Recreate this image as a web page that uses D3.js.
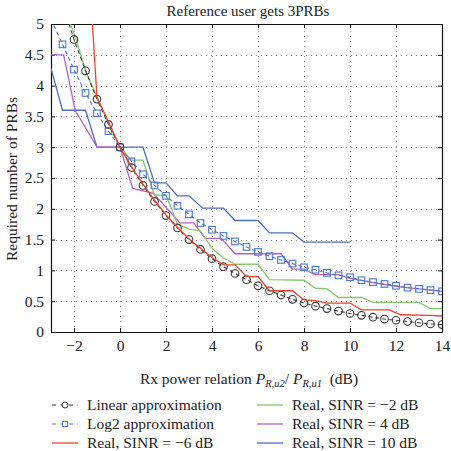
<!DOCTYPE html>
<html>
<head>
<meta charset="utf-8">
<script src="https://cdn.jsdelivr.net/npm/d3@7"></script>
<style>
  html, body { margin: 0; padding: 0; background: #fff; }
  svg { display: block; }
  svg text { font-family: "Liberation Serif", "DejaVu Serif", serif !important; fill: #222; }
</style>
</head>
<body>
<svg id="chart" width="451" height="451"></svg>
<script>
// ---------- data ----------
const titleText = "Reference user gets 3PRBs";
const xTicks = [-2, 0, 2, 4, 6, 8, 10, 12, 14];
const xTickLabels = ["\u22122", "0", "2", "4", "6", "8", "10", "12", "14"];
const yTicks = [0, 0.5, 1, 1.5, 2, 2.5, 3, 3.5, 4, 4.5, 5];
const yTickLabels = ["0", "0.5", "1", "1.5", "2", "2.5", "3", "3.5", "4", "4.5", "5"];

// Linear approximation (dashed, circle markers)
const linearX = [-2.5, -2, -1.5, -1, -0.5, 0, 0.5, 1, 1.5, 2, 2.5, 3, 3.5, 4, 4.5, 5, 5.5, 6, 6.5, 7, 7.5, 8, 8.5, 9, 9.5, 10, 10.5, 11, 11.5, 12, 12.5, 13, 13.5, 14];
const linearY = [5.33, 4.75, 4.24, 3.78, 3.37, 3.00, 2.67, 2.38, 2.12, 1.89, 1.69, 1.50, 1.34, 1.19, 1.06, 0.95, 0.85, 0.75, 0.67, 0.60, 0.53, 0.47, 0.42, 0.38, 0.34, 0.30, 0.27, 0.24, 0.21, 0.19, 0.17, 0.15, 0.13, 0.12];

// Log2 approximation (dashed, square markers)
const log2X = [-3, -2.5, -2, -1.5, -1, -0.5, 0, 0.5, 1, 1.5, 2, 2.5, 3, 3.5, 4, 4.5, 5, 5.5, 6, 6.5, 7, 7.5, 8, 8.5, 9, 9.5, 10, 10.5, 11, 11.5, 12, 12.5, 13, 13.5, 14];
const log2Y = [5.08, 4.67, 4.26, 3.88, 3.55, 3.26, 3.00, 2.77, 2.56, 2.38, 2.21, 2.05, 1.91, 1.77, 1.66, 1.56, 1.47, 1.38, 1.30, 1.23, 1.17, 1.11, 1.05, 1.01, 0.96, 0.92, 0.89, 0.84, 0.81, 0.78, 0.75, 0.72, 0.70, 0.68, 0.66];

// Real, SINR = -6 dB
const realM6X = [-1.25, -1.0, -0.5, 0, 0.5, 1, 1.5, 2, 2.5, 3, 3.5, 4, 4.5, 5, 5.5, 6, 6.5, 7.5, 8, 8.5, 9, 10, 10.5, 11.7, 12.2, 13.5, 14];
const realM6Y = [5.30, 3.80, 3.41, 3.00, 2.68, 2.40, 2.14, 1.90, 1.70, 1.51, 1.36, 1.21, 1.09, 1.09, 0.90, 0.90, 0.67, 0.67, 0.52, 0.51, 0.47, 0.47, 0.36, 0.36, 0.28, 0.27, 0.26];

// Real, SINR = -2 dB
const realM2X = [-2.25, -1.9, -1.5, -1, -0.5, 0, 0.5, 1.0, 1.5, 2.0, 2.5, 3.0, 3.5, 4.0, 4.5, 5.0, 6.0, 6.5, 8.0, 8.5, 9.0, 9.5, 10.5, 11.0, 13.0, 13.5, 14];
const realM2Y = [5.10, 4.74, 4.25, 3.82, 3.39, 3.00, 2.79, 2.79, 2.22, 2.22, 1.75, 1.67, 1.64, 1.36, 1.20, 1.10, 1.10, 0.85, 0.84, 0.71, 0.70, 0.56, 0.56, 0.48, 0.48, 0.38, 0.38];

// Real, SINR = 4 dB
const real4X = [-3, -2.45, -1.95, -1, 0, 0.55, 1.45, 2.3, 2.6, 3.2, 3.7, 4.4, 5.0, 7.0, 7.5, 8.0, 8.5, 9.5, 10, 11, 12, 13, 14];
const real4Y = [4.50, 4.50, 3.60, 3.00, 3.00, 2.33, 2.25, 1.90, 1.77, 1.77, 1.52, 1.52, 1.27, 1.27, 1.02, 1.02, 0.93, 0.93, 0.87, 0.80, 0.74, 0.70, 0.66];

// Real, SINR = 10 dB
const real10X = [-3, -2.5, -1.5, -1, 1, 1.5, 2, 2.5, 3, 3.6, 4.5, 5, 6, 6.5, 7.5, 8, 10];
const real10Y = [4.28, 3.60, 3.60, 3.00, 3.00, 2.42, 2.42, 2.21, 2.21, 2.01, 2.01, 1.81, 1.81, 1.61, 1.61, 1.46, 1.46];

const seriesNames = ["Linear approximation", "Log2 approximation", "Real, SINR = \u22126 dB", "Real, SINR = \u22122 dB", "Real, SINR = 4 dB", "Real, SINR = 10 dB"];
const seriesColors = ["#3a3a3a", "#4a78c8", "#e8442e", "#86c96e", "#b463c2", "#4f6fbd"];

// ---------- drawing ----------
const FONT = "'Liberation Serif', 'DejaVu Serif', serif";
const svg = d3.select("#chart");
const x = d3.scaleLinear().domain([-3, 14]).range([51, 442]);
const y = d3.scaleLinear().domain([0, 5]).range([332, 24]);
const [x0, x1] = x.range();
const [y0, y1] = y.range();

svg.append("defs").append("clipPath").attr("id", "clip")
  .append("rect").attr("x", x0).attr("y", y1).attr("width", x1 - x0).attr("height", y0 - y1);

// grid
const grid = svg.append("g").attr("stroke", "#8a8a8a").attr("stroke-width", 1)
  .attr("stroke-dasharray", "1,4").attr("fill", "none");
xTicks.filter(t => t > -3 && t < 14).forEach(t => {
  grid.append("line").attr("x1", Math.round(x(t)) + 0.5).attr("x2", Math.round(x(t)) + 0.5)
    .attr("y1", y0).attr("y2", y1);
});
yTicks.filter(t => t > 0 && t < 5).forEach(t => {
  grid.append("line").attr("y1", Math.round(y(t)) + 0.5).attr("y2", Math.round(y(t)) + 0.5)
    .attr("x1", x0).attr("x2", x1);
});

// axes with d3 axis generators
const xAxis = d3.axisBottom(x).tickValues(xTicks).tickSizeInner(-4).tickSizeOuter(0)
  .tickPadding(8).tickFormat((d, i) => xTickLabels[i]);
const yAxis = d3.axisLeft(y).tickValues(yTicks).tickSizeInner(-4).tickSizeOuter(0)
  .tickPadding(7).tickFormat((d, i) => yTickLabels[i]);
const xTop = d3.axisTop(x).tickValues(xTicks).tickSizeInner(-4).tickSizeOuter(0).tickFormat("");
const yRight = d3.axisRight(y).tickValues(yTicks).tickSizeInner(-4).tickSizeOuter(0).tickFormat("");

function styleAxis(g) {
  g.attr("font-family", FONT);
  g.select(".domain").attr("stroke", "#111").attr("stroke-width", 1.2);
  g.selectAll(".tick line").attr("stroke", "#111");
  g.selectAll(".tick text").style("font-family", FONT).attr("font-size", 15.5).attr("fill", "#222");
}
svg.append("g").attr("transform", `translate(0,${y0})`).call(xAxis).call(styleAxis);
svg.append("g").attr("transform", `translate(${x0},0)`).call(yAxis).call(styleAxis);
svg.append("g").attr("transform", `translate(0,${y1})`).call(xTop).call(styleAxis);
svg.append("g").attr("transform", `translate(${x1},0)`).call(yRight).call(styleAxis);

// series lines
const plot = svg.append("g").attr("clip-path", "url(#clip)");
const line = d3.line().x(d => x(d[0])).y(d => y(d[1]));
const zip = (a, b) => a.map((v, i) => [v, b[i]]);

const realSeries = [
  { xs: real10X, ys: real10Y, color: seriesColors[5] },
  { xs: real4X, ys: real4Y, color: seriesColors[4] },
  { xs: realM2X, ys: realM2Y, color: seriesColors[3] },
];
realSeries.forEach(s => {
  plot.append("path").datum(zip(s.xs, s.ys)).attr("d", line)
    .attr("fill", "none").attr("stroke", s.color).attr("stroke-width", 1.3);
});

// log2 approximation
const log2Data = zip(log2X, log2Y);
plot.append("path").datum(log2Data).attr("d", line).attr("fill", "none")
  .attr("stroke", seriesColors[1]).attr("stroke-width", 1.1).attr("stroke-dasharray", "4,3");
plot.selectAll("rect.sq").data(log2Data.filter(d => d[1] <= 5)).join("rect").attr("class", "sq")
  .attr("x", d => x(d[0]) - 3.3).attr("y", d => y(d[1]) - 3.3)
  .attr("width", 6.6).attr("height", 6.6)
  .attr("fill", "none").attr("stroke", seriesColors[1]).attr("stroke-width", 1.1);

// linear approximation
const linData = zip(linearX, linearY);
plot.append("path").datum(linData).attr("d", line).attr("fill", "none")
  .attr("stroke", seriesColors[0]).attr("stroke-width", 1.1).attr("stroke-dasharray", "4,3");
plot.selectAll("circle.lin").data(linData.filter(d => d[1] <= 5)).join("circle").attr("class", "lin")
  .attr("cx", d => x(d[0])).attr("cy", d => y(d[1])).attr("r", 3.8)
  .attr("fill", "none").attr("stroke", seriesColors[0]).attr("stroke-width", 1.1);

// red real SINR -6 dB on top
plot.append("path").datum(zip(realM6X, realM6Y)).attr("d", line)
  .attr("fill", "none").attr("stroke", seriesColors[2]).attr("stroke-width", 1.3);

// title
svg.append("text").attr("x", 248).attr("y", 16).attr("text-anchor", "middle")
  .attr("font-size", 15).style("font-family", FONT).text(titleText);

// y axis title
svg.append("text").attr("transform", "translate(17,179) rotate(-90)")
  .attr("text-anchor", "middle").attr("font-size", 15.5).style("font-family", FONT).text("Required number of PRBs");

// x axis title
const xt = svg.append("text").attr("x", 249).attr("y", 384).attr("text-anchor", "middle")
  .attr("font-size", 15.5).style("font-family", FONT);
xt.append("tspan").text("Rx power relation ");
xt.append("tspan").attr("font-style", "italic").text("P");
xt.append("tspan").attr("font-style", "italic").attr("font-size", 10.5).attr("dy", 3).text("R,u2");
xt.append("tspan").attr("dy", -3).text("/ ");
xt.append("tspan").attr("font-style", "italic").text("P");
xt.append("tspan").attr("font-style", "italic").attr("font-size", 10.5).attr("dy", 3).text("R,u1");
xt.append("tspan").attr("dy", -3).text("\u2002(dB)");

// legend
const legendItems = [
  { name: seriesNames[0], color: seriesColors[0], col: 0, row: 0, type: "circle" },
  { name: seriesNames[1], color: seriesColors[1], col: 0, row: 1, type: "square" },
  { name: seriesNames[2], color: seriesColors[2], col: 0, row: 2, type: "line" },
  { name: seriesNames[3], color: seriesColors[3], col: 1, row: 0, type: "line" },
  { name: seriesNames[4], color: seriesColors[4], col: 1, row: 1, type: "line" },
  { name: seriesNames[5], color: seriesColors[5], col: 1, row: 2, type: "line" },
];
const colX = [52, 257];
const rowY = [405, 424, 443];
const lg = svg.append("g");
legendItems.forEach(it => {
  const gx = colX[it.col], gy = rowY[it.row];
  const g = lg.append("g");
  if (it.type === "line") {
    g.append("line").attr("x1", gx).attr("x2", gx + 26).attr("y1", gy).attr("y2", gy)
      .attr("stroke", it.color).attr("stroke-width", 1.3);
  } else {
    g.append("line").attr("x1", gx).attr("x2", gx + 26).attr("y1", gy).attr("y2", gy)
      .attr("stroke", it.color).attr("stroke-width", 1.1).attr("stroke-dasharray", "4,4.5");
    if (it.type === "circle") {
      g.append("circle").attr("cx", gx + 13).attr("cy", gy).attr("r", 3)
        .attr("fill", "#fff").attr("stroke", it.color).attr("stroke-width", 1);
    } else {
      g.append("rect").attr("x", gx + 10.5).attr("y", gy - 2.5).attr("width", 5).attr("height", 5)
        .attr("fill", "#fff").attr("stroke", it.color).attr("stroke-width", 1);
    }
  }
  g.append("text").attr("x", gx + 35).attr("y", gy + 5).attr("font-size", 15.5)
    .style("font-family", FONT).text(it.name);
});
</script>
</body>
</html>
